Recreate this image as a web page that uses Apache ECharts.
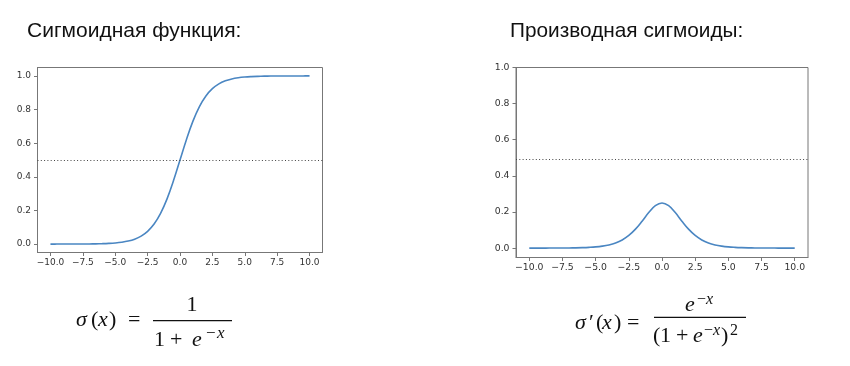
<!DOCTYPE html>
<html>
<head>
<meta charset="utf-8">
<script src="https://cdn.jsdelivr.net/npm/echarts@6/dist/echarts.min.js"></script>
<style>
html,body{margin:0;padding:0;background:#fff;}
#c{width:850px;height:366px;}
</style>
</head>
<body>
<div id="c"></div>
<script>
// ---- data ----
const xValues = [-10,-9.5,-9,-8.5,-8,-7.5,-7,-6.5,-6,-5.5,-5,-4.5,-4,-3.5,-3,-2.5,-2,-1.5,-1,-0.5,0,
                 0.5,1,1.5,2,2.5,3,3.5,4,4.5,5,5.5,6,6.5,7,7.5,8,8.5,9,9.5,10];
const sigmoidValues = [0.0000,0.0001,0.0001,0.0002,0.0003,0.0006,0.0009,0.0015,0.0025,0.0041,0.0067,
                 0.0110,0.0180,0.0293,0.0474,0.0759,0.1192,0.1824,0.2689,0.3775,0.5000,
                 0.6225,0.7311,0.8176,0.8808,0.9241,0.9526,0.9707,0.9820,0.9890,0.9933,
                 0.9959,0.9975,0.9985,0.9991,0.9994,0.9997,0.9998,0.9999,0.9999,1.0000];
const derivativeValues = [0.0000,0.0001,0.0001,0.0002,0.0003,0.0006,0.0009,0.0015,0.0025,0.0041,0.0066,
                 0.0109,0.0177,0.0285,0.0452,0.0701,0.1050,0.1491,0.1966,0.2350,0.2500,
                 0.2350,0.1966,0.1491,0.1050,0.0701,0.0452,0.0285,0.0177,0.0109,0.0066,
                 0.0041,0.0025,0.0015,0.0009,0.0006,0.0003,0.0002,0.0001,0.0001,0.0000];
const xTicks = [-10,-7.5,-5,-2.5,0,2.5,5,7.5,10];
const yTicks = [0,0.2,0.4,0.6,0.8,1.0];
const leftThreshold = 0.5;
const rightThreshold = 0.49;
const titles = ['Сигмоидная функция:', 'Производная сигмоиды:'];

// ---- styles ----
const spine = '#777';
const lineColor = '#4a86c2';
const fmtX = v => (v < 0 ? '\u2212' : '') + Math.abs(v).toFixed(1);
const fmtY = v => v.toFixed(1);

function xAxis(gi, fs){
  return {
    type:'value', gridIndex:gi, min:-11, max:11,
    splitLine:{show:false},
    axisLine:{show:true, onZero:false, lineStyle:{color:spine, width:1}},
    axisTick:{show:true, length:3.5, customValues:xTicks, lineStyle:{color:spine, width:1}},
    axisLabel:{customValues:xTicks, formatter:fmtX, margin:6, color:'#333',
               fontFamily:'DejaVu Sans', fontSize:fs}
  };
}
function yAxis(gi, mn, mx, fs){
  return {
    type:'value', gridIndex:gi, min:mn, max:mx,
    splitLine:{show:false},
    axisLine:{show:true, onZero:false, lineStyle:{color:spine, width:1}},
    axisTick:{show:true, length:3.5, customValues:yTicks, lineStyle:{color:spine, width:1}},
    axisLabel:{customValues:yTicks, formatter:fmtY, margin:6.5, color:'#333',
               fontFamily:'DejaVu Sans', fontSize:fs}
  };
}
function lineSeries(idx, values, thr){
  return {
    type:'line', xAxisIndex:idx, yAxisIndex:idx,
    data: xValues.map((x,i)=>[x, values[i]]),
    showSymbol:false, smooth:0.4,
    lineStyle:{color:lineColor, width:1.6},
    silent:true,
    markLine:{
      silent:true, symbol:['none','none'], label:{show:false},
      lineStyle:{color:'#444', width:1, type:[1,2.3]},
      data:[{yAxis:thr}]
    }
  };
}

const serif = 'Liberation Serif';
function t(x, y, s, opt){
  opt = opt || {};
  return {type:'text', x:x, y:y, silent:true, style:{
    text:s, fill:'#111', fontFamily: opt.ff || serif, fontSize: opt.fs || 22,
    fontStyle: opt.it ? 'italic' : 'normal',
    align: opt.align || 'left', verticalAlign:'middle'
  }};
}
function hline(x1, x2, y){
  return {type:'line', silent:true, shape:{x1:x1, y1:y, x2:x2, y2:y},
          style:{stroke:'#111', lineWidth:1.2}};
}

const graphics = [
  // titles
  t(27, 31.5, titles[0], {ff:'Liberation Sans', fs:21}),
  t(510, 31.5, titles[1], {ff:'Liberation Sans', fs:20.8}),
  // left formula  σ(x) = 1 / (1 + e^{-x})
  t(76, 320, 'σ', {it:true}),
  t(91, 320, '('),
  t(98, 320, 'x', {it:true}),
  t(109, 320, ')'),
  t(128, 320, '='),
  hline(153, 232, 320.7),
  t(192, 305.5, '1', {align:'center'}),
  t(154, 340.5, '1'),
  t(170, 340.5, '+'),
  t(192, 340.5, 'e', {it:true}),
  t(206, 334, '\u2212', {fs:17}),
  t(217, 334, 'x', {it:true, fs:17}),
  // right formula  σ'(x) = e^{-x} / (1 + e^{-x})^2
  t(575, 323.5, 'σ', {it:true}),
  t(589, 323.5, '\u2032'),
  t(596, 323.5, '('),
  t(602, 323.5, 'x', {it:true}),
  t(614, 323.5, ')'),
  t(627, 323.5, '='),
  hline(654, 746, 317.3),
  t(685, 305.5, 'e', {it:true}),
  t(697, 299.5, '\u2212', {fs:16}),
  t(706, 299.5, 'x', {it:true, fs:16}),
  t(653, 336, '('),
  t(660, 336, '1'),
  t(676, 336, '+'),
  t(693, 336, 'e', {it:true}),
  t(704, 330.5, '\u2212', {fs:16}),
  t(713, 330.5, 'x', {it:true, fs:16}),
  t(721, 336, ')'),
  t(730, 330.5, '2', {fs:16})
];

const chart = echarts.init(document.getElementById('c'), null, {renderer:'canvas'});
chart.setOption({
  animation:false,
  backgroundColor:'#fff',
  grid:[
    {left:37.5, top:67.5, width:285, height:185, show:true, borderColor:spine, borderWidth:1, outerBoundsMode:'none'},
    {left:516, top:67.5, width:292, height:190, show:true, borderColor:spine, borderWidth:1, outerBoundsMode:'none'}
  ],
  xAxis:[xAxis(0, 9), xAxis(1, 9.3)],
  yAxis:[yAxis(0, -0.05, 1.05, 9), yAxis(1, -0.052, 1.0, 9.3)],
  series:[lineSeries(0, sigmoidValues, leftThreshold), lineSeries(1, derivativeValues, rightThreshold)],
  graphic:graphics
});
</script>
</body>
</html>
